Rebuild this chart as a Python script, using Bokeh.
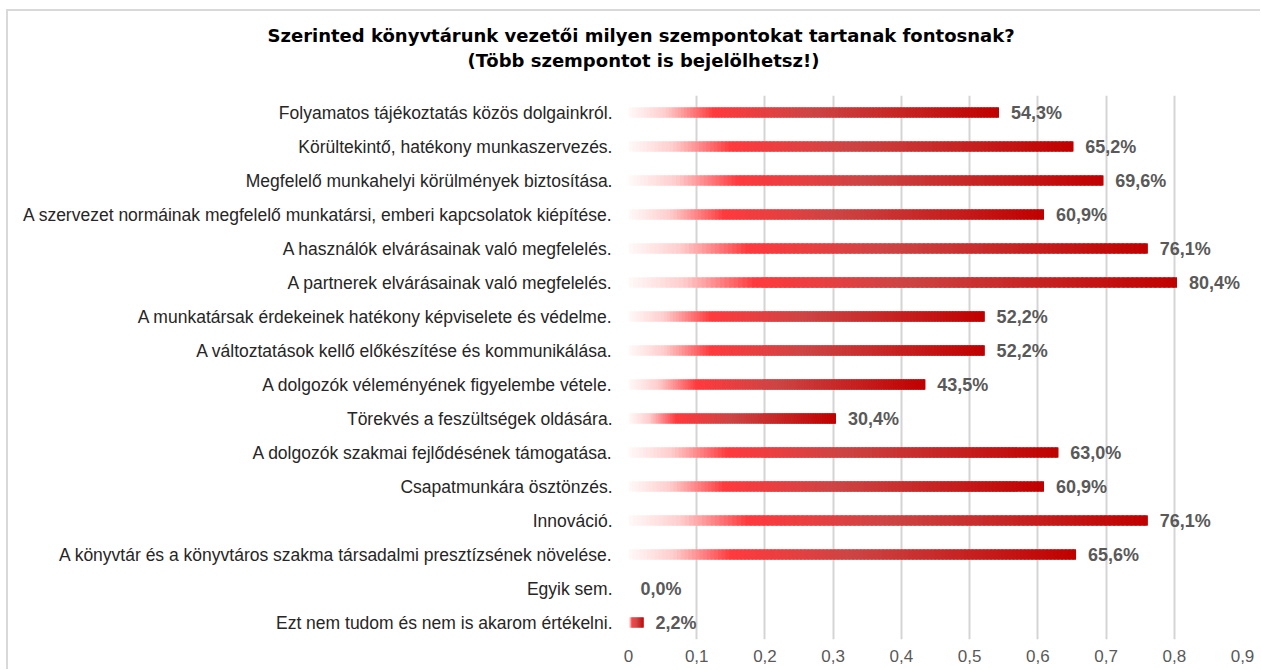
from bokeh.plotting import figure
from bokeh.models import FactorRange, FixedTicker, Title, ColumnDataSource
from bokeh.embed import file_html
from bokeh.resources import INLINE
from bokeh.core.properties import value

categories = [
    "Folyamatos tájékoztatás közös dolgainkról.",
    "Körültekintő, hatékony munkaszervezés.",
    "Megfelelő munkahelyi körülmények biztosítása.",
    "A szervezet normáinak megfelelő munkatársi, emberi kapcsolatok kiépítése.",
    "A használók elvárásainak való megfelelés.",
    "A partnerek elvárásainak való megfelelés.",
    "A munkatársak érdekeinek hatékony képviselete és védelme.",
    "A változtatások kellő előkészítése és kommunikálása.",
    "A dolgozók véleményének figyelembe vétele.",
    "Törekvés a feszültségek oldására.",
    "A dolgozók szakmai fejlődésének támogatása.",
    "Csapatmunkára ösztönzés.",
    "Innováció.",
    "A könyvtár és a könyvtáros szakma társadalmi presztízsének növelése.",
    "Egyik sem.",
    "Ezt nem tudom és nem is akarom értékelni.",
]
values = [0.543, 0.652, 0.696, 0.609, 0.761, 0.804, 0.522, 0.522,
          0.435, 0.304, 0.630, 0.609, 0.761, 0.656, 0.0, 0.022]
x_ticks = [0, 0.1, 0.2, 0.3, 0.4, 0.5, 0.6, 0.7, 0.8, 0.9]
x_tick_labels = ["0", "0,1", "0,2", "0,3", "0,4", "0,5", "0,6", "0,7", "0,8", "0,9"]
title_lines = ["Szerinted könyvtárunk vezetői milyen szempontokat tartanak fontosnak?",
               "(Több szempontot is bejelölhetsz!)"]

# gradient stops (fraction of bar length -> rgb)
stops = [(0.0, (255, 250, 250)), (0.1, (255, 205, 205)), (0.23, (255, 58, 62)),
         (0.5, (205, 68, 68)), (1.0, (192, 0, 0))]

def grad(t):
    for (t0, c0), (t1, c1) in zip(stops[:-1], stops[1:]):
        if t <= t1:
            f = (t - t0) / (t1 - t0) if t1 > t0 else 0
            return "#%02x%02x%02x" % tuple(int(round(a + (b - a) * f)) for a, b in zip(c0, c1))
    return "#%02x%02x%02x" % stops[-1][1]

N = 120
ys, lefts, rights, cols = [], [], [], []
for c, v in zip(categories, values):
    if v <= 0:
        continue
    for i in range(N):
        ys.append(c)
        lefts.append(v * i / N)
        rights.append(min(v, v * (i + 2.5) / N))
        cols.append(grad((i + 0.5) / N))

p = figure(width=1254, height=660, output_backend="svg", toolbar_location=None,
           y_range=FactorRange(*categories[::-1]), x_range=(0, 0.9),
           min_border_left=620, min_border_right=20, min_border_top=84, min_border_bottom=32)
p.styles = {"margin-left": "6px", "margin-top": "9px",
            "border-top": "2px solid #d9d9d9", "border-left": "2px solid #d9d9d9"}
p.outline_line_color = None
p.background_fill_color = "white"

p.hbar(y=ys, left=lefts, right=rights, height=0.3, fill_color=cols, line_color=None)

lab_src = ColumnDataSource(dict(
    y=categories, x=values,
    t=[("%.1f%%" % (v * 100)).replace(".", ",") for v in values]))
p.text(x="x", y="y", text="t", source=lab_src, x_offset=12, text_baseline="middle",
       text_align="left", text_font=value("Liberation Sans"), text_font_style="bold",
       text_font_size="18px", text_color="#595959")

p.xaxis.ticker = FixedTicker(ticks=x_ticks)
p.xaxis.major_label_overrides = {t: l for t, l in zip(x_ticks, x_tick_labels)}
p.xaxis.axis_line_color = None
p.xaxis.major_tick_line_color = None
p.xaxis.minor_tick_line_color = None
p.xaxis.major_label_text_font = "Liberation Sans"
p.xaxis.major_label_text_font_size = "17px"
p.xaxis.major_label_text_color = "#595959"
p.xaxis.major_label_standoff = 4

p.yaxis.axis_line_color = None
p.yaxis.major_tick_line_color = None
p.yaxis.major_label_text_font = "Liberation Sans"
p.yaxis.major_label_text_font_size = "17.5px"
p.yaxis.major_label_text_color = "#262626"
p.yaxis.major_label_standoff = 10

p.ygrid.grid_line_color = None
p.xgrid.ticker = FixedTicker(ticks=x_ticks)
p.xgrid.grid_line_color = "#d4d4d4"
p.xgrid.grid_line_width = 2

# spacer between subtitle and plot area
p.add_layout(Title(text=" ", text_font_size="18px", standoff=2), "above")
for txt, off in zip(title_lines[::-1], [-161, -361]):
    p.add_layout(Title(text=txt, align="left", offset=off, standoff=2,
                       text_font="DejaVu Sans", text_font_style="bold",
                       text_font_size="18px", text_color="#000000"), "above")

open("out.html", "w").write(file_html(p, INLINE))
